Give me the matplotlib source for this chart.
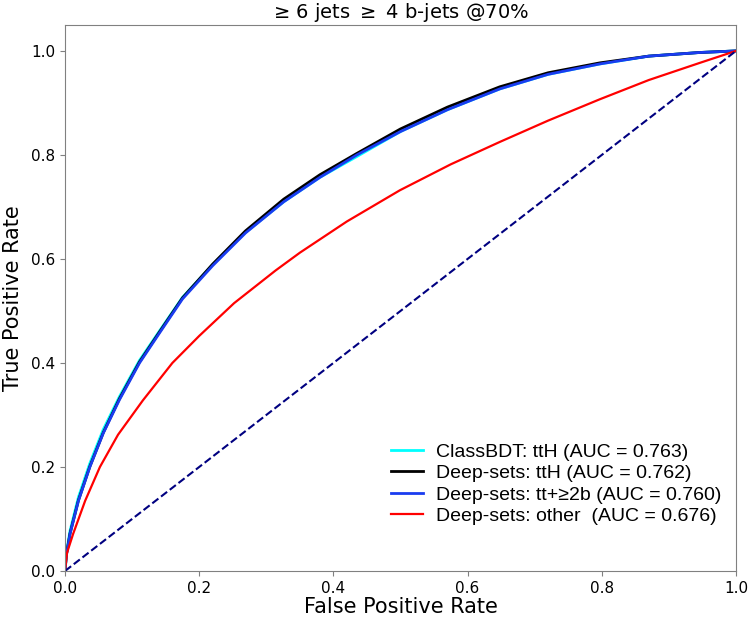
import matplotlib
matplotlib.use("Agg")
import matplotlib.pyplot as plt

# ROC points (fpr, tpr)
bdt_tth_fpr = [0.0, 0.002, 0.0074, 0.02, 0.037, 0.057, 0.081, 0.111, 0.141, 0.175, 0.22,
               0.269, 0.326, 0.38, 0.435, 0.5, 0.57, 0.648, 0.72, 0.797, 0.87, 0.946, 1.0]
bdt_tth_tpr = [0.0, 0.034, 0.077, 0.142, 0.207, 0.272, 0.335, 0.405, 0.462, 0.526, 0.589,
               0.651, 0.71, 0.757, 0.797, 0.845, 0.887, 0.927, 0.955, 0.975, 0.99, 0.997, 1.0]

ds_tth_fpr = [0.0, 0.002, 0.0074, 0.02, 0.037, 0.057, 0.081, 0.111, 0.141, 0.175, 0.22,
              0.269, 0.326, 0.38, 0.435, 0.5, 0.57, 0.648, 0.72, 0.797, 0.87, 0.946, 1.0]
ds_tth_tpr = [0.0, 0.031, 0.072, 0.136, 0.201, 0.266, 0.331, 0.402, 0.46, 0.525, 0.59,
              0.654, 0.715, 0.762, 0.803, 0.85, 0.892, 0.931, 0.958, 0.977, 0.99, 0.997, 1.0]

ds_ttb_fpr = [0.0, 0.002, 0.0074, 0.02, 0.037, 0.057, 0.081, 0.111, 0.141, 0.175, 0.22,
              0.269, 0.326, 0.38, 0.435, 0.5, 0.57, 0.648, 0.72, 0.797, 0.87, 0.946, 1.0]
ds_ttb_tpr = [0.0, 0.03, 0.071, 0.135, 0.2, 0.265, 0.329, 0.4, 0.458, 0.523, 0.587,
              0.65, 0.71, 0.757, 0.8, 0.845, 0.887, 0.927, 0.955, 0.975, 0.99, 0.997, 1.0]

ds_other_fpr = [0.0, 0.003, 0.012, 0.03, 0.052, 0.079, 0.116, 0.16, 0.2, 0.252, 0.314,
                0.35, 0.42, 0.499, 0.575, 0.648, 0.72, 0.797, 0.87, 0.946, 1.0]
ds_other_tpr = [0.0, 0.035, 0.071, 0.135, 0.2, 0.262, 0.328, 0.4, 0.452, 0.515, 0.578,
                0.612, 0.672, 0.732, 0.782, 0.825, 0.866, 0.907, 0.944, 0.977, 1.0]

labels = ["ClassBDT: ttH (AUC = 0.763)",
          "Deep-sets: ttH (AUC = 0.762)",
          "Deep-sets: tt+\u22652b (AUC = 0.760)",
          "Deep-sets: other  (AUC = 0.676)"]

fig = plt.figure(figsize=(7.5, 6.17), dpi=100)
ax = fig.add_axes([0.0867, 0.0746, 0.8946, 0.885])

ax.plot(bdt_tth_fpr, bdt_tth_tpr, color="cyan", lw=2, label=labels[0])
ax.plot(ds_tth_fpr, ds_tth_tpr, color="black", lw=2, label=labels[1])
ax.plot(ds_ttb_fpr, ds_ttb_tpr, color="#1a3cf0", lw=2, label=labels[2])
ax.plot(ds_other_fpr, ds_other_tpr, color="red", lw=1.6, label=labels[3])
ax.plot([0, 1], [0, 1], color="navy", lw=1.5, ls="--")

ax.set_xlim(0, 1)
ax.set_ylim(0, 1.05)
ax.set_xticks([0, 0.2, 0.4, 0.6, 0.8, 1.0])
ax.set_yticks([0, 0.2, 0.4, 0.6, 0.8, 1.0])
ax.tick_params(labelsize=11, color="grey")
for s in ax.spines.values():
    s.set_color("grey")

ax.set_xlabel("False Positive Rate", fontsize=15, labelpad=1)
ax.set_ylabel("True Positive Rate", fontsize=15, labelpad=6)
ax.set_title("\u2265 6 jets $\\geq$ 4 b-jets @70%", fontsize=14, pad=5)

leg = ax.legend(loc="upper left", bbox_to_anchor=(0.472, 0.252), frameon=False,
                prop={"family": "Liberation Sans", "size": 14}, labelspacing=0.2,
                handlelength=1.6, handletextpad=0.7, borderpad=0)

fig.savefig("out.png", dpi=100)
